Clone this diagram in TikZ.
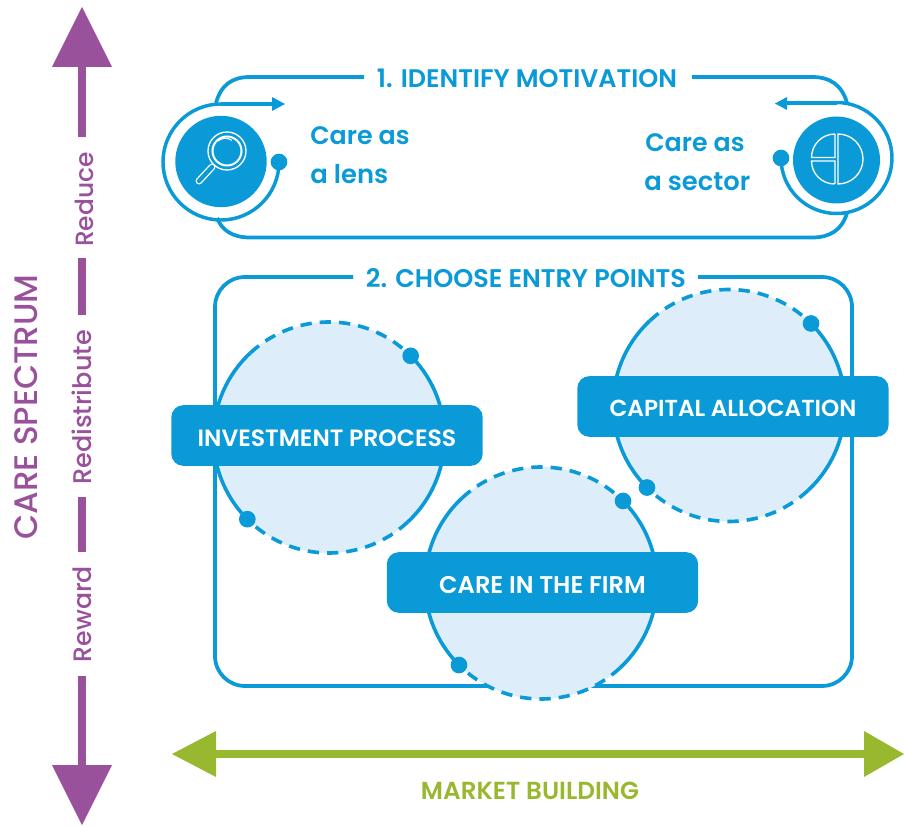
\documentclass[tikz,border=0pt]{standalone}
\usepackage{fontspec}
\usepackage{graphicx}
\setmainfont{Poppins}[UprightFont=* Medium,BoldFont=* SemiBold]
\usetikzlibrary{calc}
\definecolor{cblue}{HTML}{0A9AD8}
\definecolor{clight}{HTML}{DDEEFA}
\definecolor{cpurple}{HTML}{9A519C}
\definecolor{cgreen}{HTML}{98B82F}
\newcommand{\fitw}[2]{\resizebox{#1pt}{!}{#2}}
\tikzset{
  frameline/.style={draw=cblue,line width=2.8pt},
  ringline/.style={draw=cblue,line width=2.6pt},
  solidarc/.style={draw=cblue,line width=2.7pt},
  dasharc/.style={draw=cblue,line width=2.7pt,dash pattern=on 8.5pt off 6pt},
  dotnode/.style={circle,fill=cblue,inner sep=0pt,minimum size=12.5pt},
  bandnode/.style={fill=cblue,rounded corners=9pt,inner sep=0pt,minimum height=45.5pt,minimum width=233.5pt},
  bandtext/.style={text=white,inner sep=0pt,font=\bfseries},
  heading/.style={text=cblue,inner sep=0pt,font=\bfseries},
  careline/.style={text=cblue,inner sep=0pt,anchor=base west,font=\bfseries},
  purplelabel/.style={text=cpurple,inner sep=0pt,rotate=90},
  purplebar/.style={draw=cpurple,line width=6pt},
  greenbar/.style={draw=cgreen,line width=6pt},
  iconline/.style={draw=white,line width=1pt},
}
\begin{document}
\begin{tikzpicture}[x=0.75pt,y=0.75pt]
\useasboundingbox (0,-827) rectangle (904,0);

% ---- frame 1
\coordinate (ltop) at (216,-103);
\coordinate (rtop) at (847,-103);
\coordinate (lbot) at (217,-218);
\coordinate (rbot) at (847,-213);
\node[heading] (t1) at (527,-78) {\fitw{225}{1. IDENTIFY MOTIVATION}};
\draw[frameline] (ltop) .. controls (221,-85) and (232,-77) .. (250,-77) -- (364,-77);
\draw[frameline] (692,-77) -- (812,-77) .. controls (830,-77) and (842,-85) .. (rtop);
\draw[frameline] (lbot) .. controls (222,-230) and (232,-237.5) .. (250,-237.5) -- (812,-237.5) .. controls (830,-237.5) and (842,-230) .. (rbot);

% ---- left ring
\coordinate (lc) at (221,-161.5);
\fill[cblue] (lc) circle[radius=45.7];
\node[dotnode] (ldot) at (279,-162) {};
\draw[ringline] (ldot.center) arc[start angle=0,end angle=-270,radius=58];
\coordinate (ltip) at (285,-104);
\draw[ringline] (221,-104) -- (275,-104);
\fill[cblue] (ltip) -- (272,-97) -- (272,-111) -- cycle;
% magnifier
\coordinate (mag) at (227,-151);
\draw[iconline] (mag) circle[radius=19];
\draw[iconline,line width=1.5pt] (mag) circle[radius=14.5];
\draw[iconline,line width=0.8pt] (218,-141) arc[start angle=130,end angle=55,radius=11.5];
\draw[draw=white,line width=5.2pt,line cap=round] (212,-167) -- (199,-181);
\draw[draw=cblue,line width=3.2pt,line cap=round] (212,-167) -- (199,-181);

% ---- right ring
\coordinate (rc) at (836.5,-160);
\fill[cblue] (rc) circle[radius=43.5];
\node[dotnode] (rdot) at (781,-158) {};
\draw[ringline] (rdot.center) arc[start angle=180,end angle=450,radius=55.5];
\coordinate (rtip) at (775,-103.5);
\draw[ringline] (837,-103) -- (785,-103);
\fill[cblue] (rtip) -- (787,-97) -- (787,-110) -- cycle;
% pie
\draw[iconline] (838,-134) arc[start angle=90,end angle=-90,radius=25] -- cycle;
\draw[iconline] (835,-134) -- (835,-157.5) -- (811.5,-157.5) arc[start angle=180,end angle=90,radius=23.5];
\draw[iconline] (835,-184) -- (835,-161) -- (811.5,-161) arc[start angle=180,end angle=270,radius=23];

% ---- care labels
\node[careline] (l1) at (310,-145) {\fitw{74.5}{Care as}};
\node[careline] (l2) at (310,-184) {\fitw{58.5}{a lens}};
\node[careline] (r1) at (645,-152) {\fitw{74.5}{Care as}};
\node[careline] (r2) at (644,-191) {\fitw{79.5}{a sector}};

% ---- frame 2
\node[heading] (t2) at (526,-278) {\fitw{240}{2. CHOOSE ENTRY POINTS}};
\draw[frameline] (353,-277) -- (245,-277) arc[start angle=90,end angle=180,radius=30] -- (215,-656) arc[start angle=180,end angle=270,radius=30] -- (822,-686) arc[start angle=-90,end angle=0,radius=30] -- (852,-307) arc[start angle=0,end angle=90,radius=30] -- (698,-277);

% ---- circles
\foreach \nm/\cx/\cy/\r in {inv/329/-437.5/115.5,cap/729/-405.5/116,firm/541/-583/116}{
  \coordinate (\nm c) at (\cx,\cy);
  \fill[clight] (\nm c) circle[radius=\r];
  \draw[solidarc] ($(\nm c)+(45:\r)$) arc[start angle=45,end angle=-47,radius=\r];
  \draw[dasharc] ($(\nm c)+(-47:\r)$) arc[start angle=-47,end angle=-135,radius=\r];
  \draw[solidarc] ($(\nm c)+(225:\r)$) arc[start angle=225,end angle=133,radius=\r];
  \draw[dasharc] ($(\nm c)+(133:\r)$) arc[start angle=133,end angle=45,radius=\r];
  \node[dotnode] (\nm a) at ($(\nm c)+(45:\r)$) {};
  \node[dotnode] (\nm b) at ($(\nm c)+(225:\r)$) {};
}

% ---- bands
\node[bandnode] (binv) at (327,-435.5) {};
\node[bandnode] (bcap) at (733,-406.5) {};
\node[bandnode] (bfirm) at (542.5,-582.5) {};
\node[bandtext] (tinv) at ([yshift=-1.7pt]binv.center) {\fitw{194}{INVESTMENT PROCESS}};
\node[bandtext] (tcap) at ([yshift=-1.2pt]bcap.center) {\fitw{185}{CAPITAL ALLOCATION}};
\node[bandtext] (tfirm) at ([yshift=-1.7pt]bfirm.center) {\fitw{155}{CARE IN THE FIRM}};

% ---- care spectrum
\node[purplelabel] (spec) at (26,-407) {\fitw{199}{CARE SPECTRUM}};
\node[purplelabel] (reduce) at (84,-199.5) {\fitw{71}{Reduce}};
\node[purplelabel] (redis) at (82,-407.5) {\fitw{116}{Redistribute}};
\node[purplelabel] (reward) at (82,-614) {\fitw{72}{Reward}};
\coordinate (ptop) at (82,-7);
\coordinate (pbot) at (82,-825);
\fill[cpurple] (ptop) -- (112,-67) -- (52,-67) -- cycle;
\fill[cpurple] (pbot) -- (112,-765) -- (52,-765) -- cycle;
\draw[purplebar] (82,-67) -- (82,-137);
\draw[purplebar] (82,-258) -- (82,-315);
\draw[purplebar] (82,-497) -- (82,-552);
\draw[purplebar] (82,-676) -- (82,-765);

% ---- market building
\coordinate (gl) at (172,-754);
\coordinate (gr) at (904,-754);
\fill[cgreen] (gl) -- (216,-731) -- (216,-777) -- cycle;
\fill[cgreen] (gr) -- (864,-731) -- (864,-777) -- cycle;
\draw[greenbar] (216,-754) -- (864,-754);
\node[text=cgreen,inner sep=0pt,font=\bfseries] (mb) at (530,-791) {\fitw{163.5}{MARKET BUILDING}};
\end{tikzpicture}
\end{document}
